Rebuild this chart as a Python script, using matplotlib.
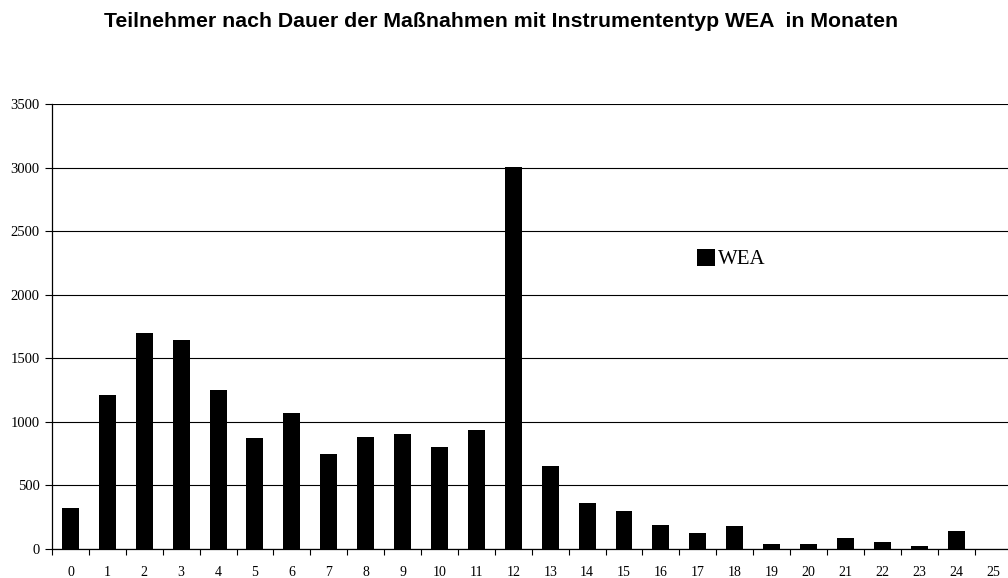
import matplotlib
matplotlib.use('Agg')
import matplotlib.pyplot as plt
import numpy as np

# ── Data ────────────────────────────────────────────────────────────
months = [str(m) for m in range(26)]
wea = [322, 1210, 1700, 1645, 1250, 875, 1070, 745, 882, 903, 806, 933,
       3008, 650, 362, 298, 190, 122, 183, 37, 43, 88, 54, 20, 145, 0]

TITLE = 'Teilnehmer nach Dauer der Maßnahmen mit Instrumententyp WEA  in Monaten'

W, H, DPI = 1008, 578, 100
fig = plt.figure(figsize=(W / DPI, H / DPI), dpi=DPI)
fig.patch.set_facecolor('white')

# axes run slightly past the right edge, as in the original export
ax = fig.add_axes([52 / W, 1 - 549 / H, (1011.5 - 52) / W, (549 - 104) / H])

x = np.arange(len(months))
ax.bar(x, wea, width=0.46, color='black', label='WEA', zorder=3)

ax.set_xlim(-0.5, len(months) - 0.5)
ax.set_ylim(0, 3500)
ax.set_yticks(np.arange(0, 3501, 500))
ax.yaxis.grid(True, color='black', linewidth=0.8, zorder=0)

# category labels centred, tick marks between categories
ax.set_xticks(x)
ax.set_xticklabels(months, family='Liberation Serif', fontsize=10)
ax.set_xticks(np.arange(-0.5, len(months)), minor=True)
ax.tick_params(axis='x', which='major', length=0, pad=12)
ax.tick_params(axis='x', which='minor', length=4, width=0.8, direction='out')
ax.tick_params(axis='y', length=5, width=0.8, direction='out', pad=4)
for lab in ax.get_yticklabels():
    lab.set_family('Liberation Serif')
    lab.set_fontsize(10.5)

for side in ['top', 'right']:
    ax.spines[side].set_visible(False)
for side in ['left', 'bottom']:
    ax.spines[side].set_linewidth(0.9)

fig.text(501 / W, 1 - 27 / H, TITLE, ha='center', va='baseline',
         family='Liberation Sans', fontweight='bold', fontsize=15.3)

fig.legend(loc='center left', bbox_to_anchor=(697 / W, 1 - 259 / H),
           frameon=False, borderpad=0, borderaxespad=0,
           handlelength=0.87, handleheight=0.87, handletextpad=0.15,
           prop={'family': 'Liberation Serif', 'size': 15})

fig.savefig('out.png', dpi=DPI, facecolor='white')
